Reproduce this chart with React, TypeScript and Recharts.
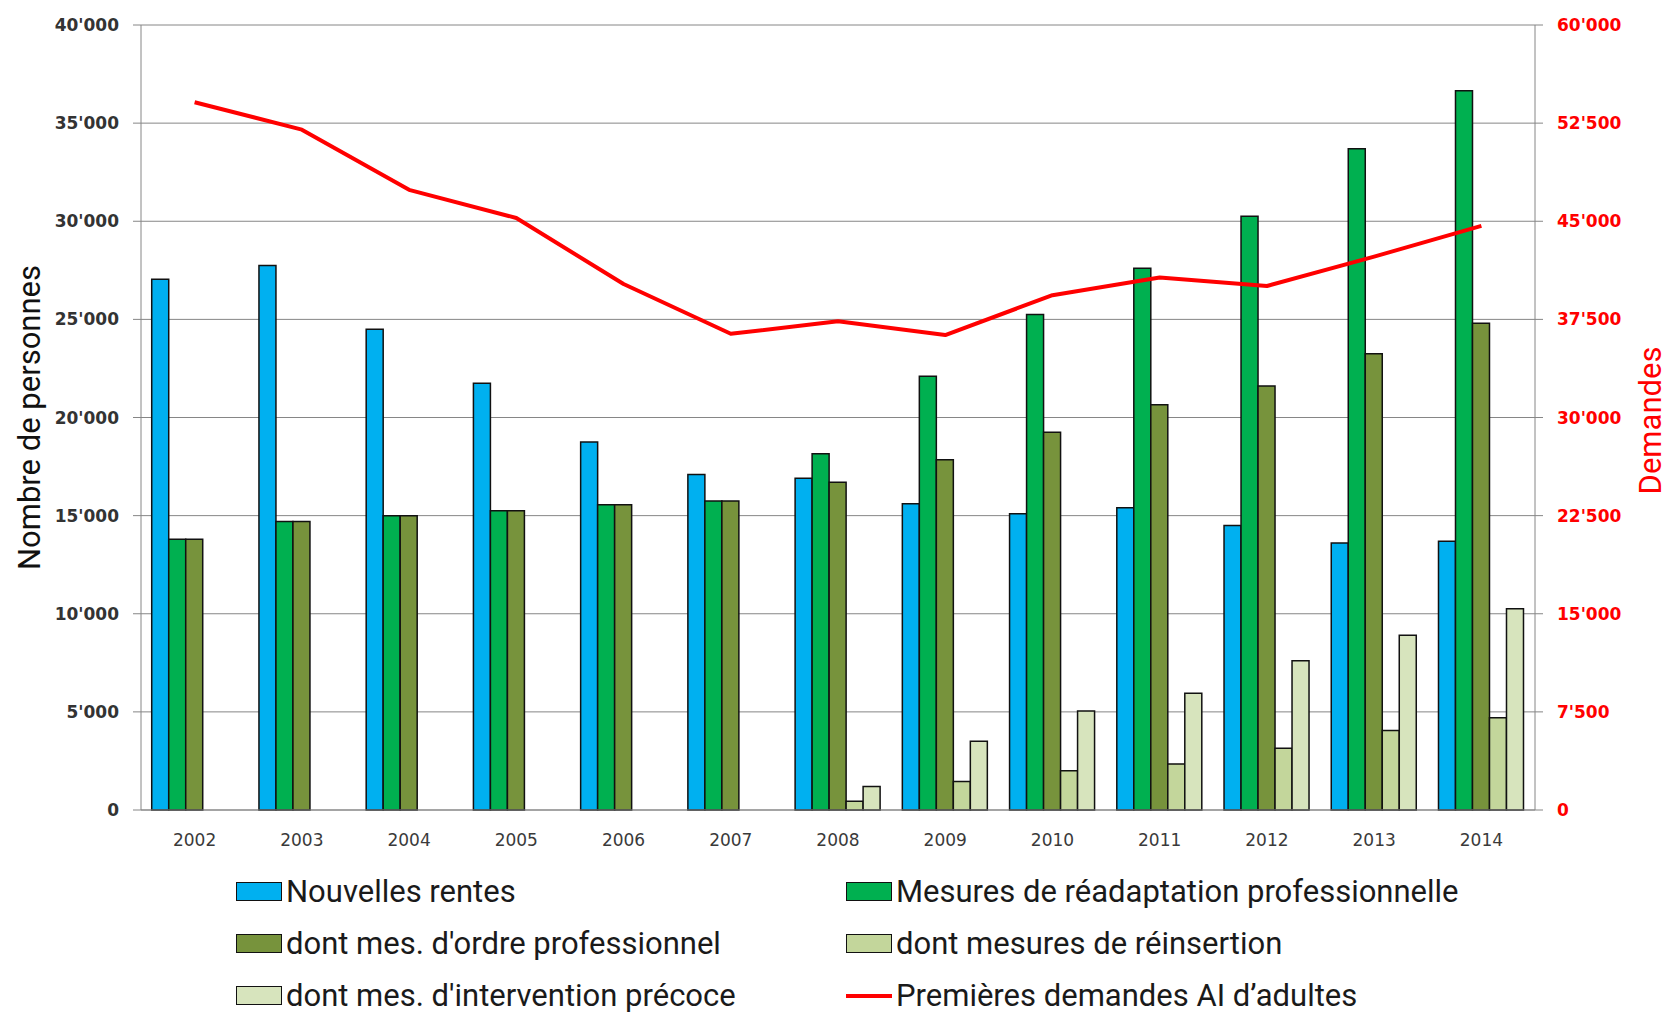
import { Bar, CartesianGrid, ComposedChart, Line, XAxis, YAxis } from "recharts";

const YEARS = ["2002", "2003", "2004", "2005", "2006", "2007", "2008", "2009", "2010", "2011", "2012", "2013", "2014"];

// Left axis (Nombre de personnes)
const NOUVELLES_RENTES = [27050, 27750, 24500, 21750, 18750, 17100, 16900, 15600, 15100, 15400, 14500, 13600, 13700];
const READAPTATION_PRO = [13800, 14700, 15000, 15250, 15550, 15750, 18150, 22100, 25250, 27600, 30250, 33700, 36650];
const ORDRE_PRO = [13800, 14700, 15000, 15250, 15550, 15750, 16700, 17850, 19250, 20650, 21600, 23250, 24800];
const REINSERTION = [null, null, null, null, null, null, 450, 1450, 2000, 2350, 3150, 4050, 4700];
const INTERVENTION_PRECOCE = [null, null, null, null, null, null, 1200, 3500, 5050, 5950, 7600, 8900, 10250];

// Right axis (Demandes)
const PREMIERES_DEMANDES = [54100, 52000, 47400, 45250, 40200, 36400, 37350, 36300, 39350, 40700, 40050, 42300, 44650];

const LEFT_TICKS = [0, 5000, 10000, 15000, 20000, 25000, 30000, 35000, 40000];
const RIGHT_TICKS = [0, 7500, 15000, 22500, 30000, 37500, 45000, 52500, 60000];

const COLORS = {
  rentes: "#00b0f0",
  readaptation: "#00b050",
  ordre: "#77933c",
  reinsertion: "#c3d69b",
  intervention: "#d7e4bd",
  demandes: "#ff0000",
  grid: "#868686",
} as const;

const W = 1668;
const H = 1017;

const tickFont = "'DejaVu Sans', Verdana, sans-serif";
const textFont = "Roboto, 'Open Sans', sans-serif";

const data = YEARS.map((year, i) => ({
  year,
  rentes: NOUVELLES_RENTES[i],
  readaptation: READAPTATION_PRO[i],
  ordre: ORDRE_PRO[i],
  reinsertion: REINSERTION[i],
  intervention: INTERVENTION_PRECOCE[i],
  demandes: PREMIERES_DEMANDES[i],
}));

const fmt = (v: number) => String(v).replace(/\B(?=(\d{3})+(?!\d))/g, "'");

const LEGEND = [
  { label: "Nouvelles rentes", color: COLORS.rentes, line: false },
  { label: "Mesures de réadaptation professionnelle", color: COLORS.readaptation, line: false },
  { label: "dont mes. d'ordre professionnel", color: COLORS.ordre, line: false },
  { label: "dont mesures de réinsertion", color: COLORS.reinsertion, line: false },
  { label: "dont mes. d'intervention précoce", color: COLORS.intervention, line: false },
  { label: "Premières demandes AI d’adultes", color: COLORS.demandes, line: true },
];

function AxisTitle({ viewBox, text, side, color }: any) {
  const x = side === "left" ? viewBox.x + 29 : viewBox.x + viewBox.width - 18;
  const y = viewBox.y + viewBox.height / 2 + (side === "left" ? 0 : 3);
  return (
    <text
      x={x}
      y={y}
      transform={`rotate(-90, ${x}, ${y})`}
      textAnchor="middle"
      dominantBaseline="central"
      fontFamily={textFont}
      fontSize={31}
      fill={color}
    >
      {text}
    </text>
  );
}

function ChartLegend() {
  return (
    <div style={{ position: "absolute", left: 236, top: 876, width: 1300, display: "grid", gridTemplateColumns: "610px 690px", rowGap: 21 }}>
      {LEGEND.map((item) => (
        <div key={item.label} style={{ display: "flex", alignItems: "center", height: 31 }}>
          {item.line ? (
            <span style={{ width: 46, height: 4, background: item.color, display: "inline-block" }} />
          ) : (
            <span
              style={{
                width: 44,
                height: 17,
                background: item.color,
                border: "1.5px solid #111",
                display: "inline-block",
              }}
            />
          )}
          <span style={{ marginLeft: 4, fontFamily: textFont, fontSize: 31, color: "#1a1a1a", whiteSpace: "nowrap", lineHeight: "31px" }}>
            {item.label}
          </span>
        </div>
      ))}
    </div>
  );
}

export default function App() {
  return (
    <div style={{ position: "absolute", left: 0, top: 0, width: W, height: H, background: "#fff", overflow: "hidden" }}>
      <ComposedChart
        width={W}
        height={H}
        data={data}
        margin={{ top: 25, right: 0, bottom: 167, left: 0 }}
        barCategoryGap="10%"
        barGap={0}
      >
        <CartesianGrid vertical={false} stroke={COLORS.grid} yAxisId="left" />
        <XAxis
          dataKey="year"
          height={40}
          axisLine={{ stroke: COLORS.grid }}
          tickLine={false}
          tickSize={6}
          tickMargin={18}
          tick={{ fontFamily: tickFont, fontSize: 17, fill: "#3a3a3a" }}
        />
        <YAxis
          yAxisId="left"
          width={141}
          domain={[0, 40000]}
          ticks={LEFT_TICKS}
          tickFormatter={fmt}
          axisLine={{ stroke: COLORS.grid }}
          tickLine={{ stroke: COLORS.grid }}
          tickSize={8}
          tickMargin={14}
          tick={{ fontFamily: tickFont, fontSize: 17, fontWeight: 700, fill: "#333" }}
          label={<AxisTitle text="Nombre de personnes" side="left" color="#111" />}
        />
        <YAxis
          yAxisId="right"
          orientation="right"
          width={133}
          domain={[0, 60000]}
          ticks={RIGHT_TICKS}
          tickFormatter={fmt}
          axisLine={{ stroke: COLORS.grid }}
          tickLine={{ stroke: COLORS.grid }}
          tickSize={8}
          tickMargin={14}
          tick={{ fontFamily: tickFont, fontSize: 17, fontWeight: 700, fill: COLORS.demandes }}
          label={<AxisTitle text="Demandes" side="right" color={COLORS.demandes} />}
        />
        <Bar yAxisId="left" dataKey="rentes" fill={COLORS.rentes} stroke="#111" strokeWidth={1.5} isAnimationActive={false} />
        <Bar yAxisId="left" dataKey="readaptation" fill={COLORS.readaptation} stroke="#111" strokeWidth={1.5} isAnimationActive={false} />
        <Bar yAxisId="left" dataKey="ordre" fill={COLORS.ordre} stroke="#111" strokeWidth={1.5} isAnimationActive={false} />
        <Bar yAxisId="left" dataKey="reinsertion" fill={COLORS.reinsertion} stroke="#111" strokeWidth={1.5} isAnimationActive={false} />
        <Bar yAxisId="left" dataKey="intervention" fill={COLORS.intervention} stroke="#111" strokeWidth={1.5} isAnimationActive={false} />
        <Line
          yAxisId="right"
          type="linear"
          dataKey="demandes"
          stroke={COLORS.demandes}
          strokeWidth={4}
          strokeLinejoin="round"
          dot={false}
          isAnimationActive={false}
        />
      </ComposedChart>
      <ChartLegend />
    </div>
  );
}
